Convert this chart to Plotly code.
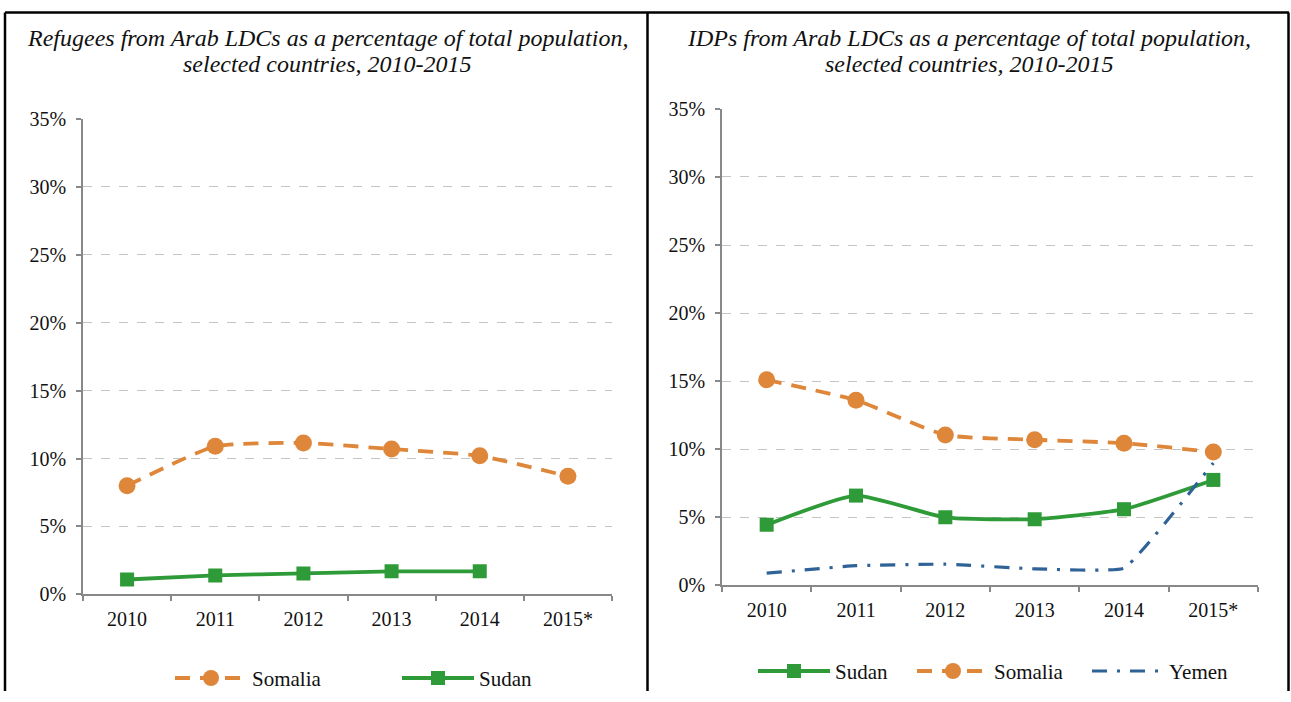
import plotly.graph_objects as go

# --- data -------------------------------------------------------------
years = ["2010", "2011", "2012", "2013", "2014", "2015*"]

# Refugees as % of total population
ref_somalia = [8.0, 10.9, 11.15, 10.7, 10.2, 8.7]
ref_sudan = [1.1, 1.4, 1.55, 1.7, 1.7, None]

# IDPs as % of total population
idp_sudan = [4.45, 6.6, 5.0, 4.87, 5.6, 7.75]
idp_somalia = [15.1, 13.6, 11.05, 10.7, 10.45, 9.8]
idp_yemen = [0.9, 1.45, 1.56, 1.22, 1.27, 9.0]

y_ticks = [0, 5, 10, 15, 20, 25, 30, 35]
y_tick_text = [f"{v}%" for v in y_ticks]

title_left = ["Refugees from Arab LDCs as a percentage of total population,",
              "selected countries, 2010-2015"]
title_right = ["IDPs from Arab LDCs as a percentage of total population,",
               "selected countries, 2010-2015"]

# --- styling ----------------------------------------------------------
W, H = 1291, 702
ORANGE = "#DE8639"
GREEN = "#2E9B38"
BLUE = "#2F6297"
GRID = "#C4C4C4"
AXIS = "#888888"
FONT = "Liberation Serif, Times New Roman, serif"
SMOOTH = 0.5

# vertical placement of the page inside the captured frame
Y_OFF, Y_SCALE = 10.0, 0.9696


def px_x(p):
    return p / W


def px_y(p):
    fig_px = (p - Y_OFF) / Y_SCALE
    return min(1.0, max(0.0, 1 - fig_px / H))


fig = go.Figure()


def somalia_trace(y, xa, ya, legend, lw):
    return go.Scatter(
        x=years, y=y, name="Somalia", xaxis=xa, yaxis=ya, legend=legend, legendwidth=lw,
        mode="lines+markers",
        line=dict(color=ORANGE, width=3.8, dash="15px,10px", shape="spline", smoothing=SMOOTH),
        marker=dict(symbol="circle", size=17, color=ORANGE),
    )


def sudan_trace(y, xa, ya, legend, lw):
    return go.Scatter(
        x=years, y=y, name="Sudan", xaxis=xa, yaxis=ya, legend=legend, legendwidth=lw,
        mode="lines+markers",
        line=dict(color=GREEN, width=3.8, shape="spline", smoothing=SMOOTH),
        marker=dict(symbol="square", size=14, color=GREEN),
    )


# left panel: refugees
fig.add_trace(somalia_trace(ref_somalia, "x", "y", "legend", 140))
fig.add_trace(sudan_trace(ref_sudan, "x", "y", "legend", 80))

# right panel: IDPs
fig.add_trace(sudan_trace(idp_sudan, "x2", "y2", "legend2", 72))
fig.add_trace(somalia_trace(idp_somalia, "x2", "y2", "legend2", 88))
fig.add_trace(go.Scatter(
    x=years, y=idp_yemen, name="Yemen", xaxis="x2", yaxis="y2", legend="legend2", legendwidth=80,
    mode="lines",
    line=dict(color=BLUE, width=3.2, dash="15px,10px,3px,10px", shape="spline", smoothing=0.3),
))

xaxis_common = dict(
    type="category", categoryorder="array", categoryarray=years,
    range=[-0.5, 5.5], showline=True, linecolor=AXIS, linewidth=1.5,
    ticks="outside", tickson="boundaries", ticklen=5, tickcolor=AXIS, tickwidth=1.5,
    showgrid=False, zeroline=False,
    tickfont=dict(family=FONT, size=20, color="#111111"), ticklabelstandoff=6,
    fixedrange=True,
)
yaxis_common = dict(
    range=[0, 35], tickvals=y_ticks, ticktext=y_tick_text,
    showline=True, linecolor=AXIS, linewidth=1.5,
    ticks="outside", ticklen=5, tickcolor=AXIS, tickwidth=1.5,
    showgrid=True, gridcolor=GRID, gridwidth=1, griddash="dash",
    zeroline=False, tickfont=dict(family=FONT, size=20, color="#111111"),
    ticklabelstandoff=6, fixedrange=True,
)

legend_common = dict(
    orientation="h", font=dict(family=FONT, size=21, color="#111111"),
    bgcolor="rgba(0,0,0,0)", xanchor="left", yanchor="middle",
    itemwidth=72, tracegroupgap=0,
)

fig.update_layout(
    width=W, height=H, autosize=False,
    margin=dict(l=0, r=0, t=0, b=0, pad=0),
    paper_bgcolor="white", plot_bgcolor="white",
    xaxis=dict(xaxis_common, domain=[px_x(83), px_x(612)], anchor="y"),
    yaxis=dict(yaxis_common, domain=[px_y(594), px_y(118)], anchor="x"),
    xaxis2=dict(xaxis_common, domain=[px_x(722), px_x(1258)], anchor="y2"),
    yaxis2=dict(yaxis_common, domain=[px_y(585), px_y(108)], anchor="x2"),
    legend=dict(legend_common, x=px_x(170), y=px_y(678)),
    legend2=dict(legend_common, x=px_x(753), y=px_y(671)),
    showlegend=True,
)

# chart titles, two lines each
for lines, cx in ((title_left, 327), (title_right, 969)):
    for text, cy in zip(lines, (37, 63)):
        fig.add_annotation(
            text=text, xref="paper", yref="paper", x=px_x(cx), y=px_y(cy),
            xanchor="center", yanchor="middle", showarrow=False, align="center",
            font=dict(family=FONT, size=24, color="#111111", style="italic"),
        )

# panel frames
frame = dict(type="line", xref="paper", yref="paper", line=dict(color="black", width=2.5))
top = 1 - 1.5 / H
fig.add_shape(frame, x0=px_x(5), x1=px_x(1289), y0=top, y1=top)
fig.add_shape(frame, x0=px_x(5), x1=px_x(5), y0=top, y1=0)
fig.add_shape(frame, x0=px_x(647.5), x1=px_x(647.5), y0=top, y1=0)
fig.add_shape(frame, x0=px_x(1288.5), x1=px_x(1288.5), y0=top, y1=0)

# pin the chart to the top-left corner of the page
pin_js = (
    "document.documentElement.style.margin='0';"
    "document.body.style.margin='0';"
    "document.body.style.overflow='hidden';"
    "var gd=document.getElementById('{plot_id}');"
    "gd.style.position='fixed';gd.style.left='0px';gd.style.top='0px';"
)

fig.write_html(
    "out.html",
    config={"responsive": False, "displayModeBar": False},
    post_script=pin_js,
)
